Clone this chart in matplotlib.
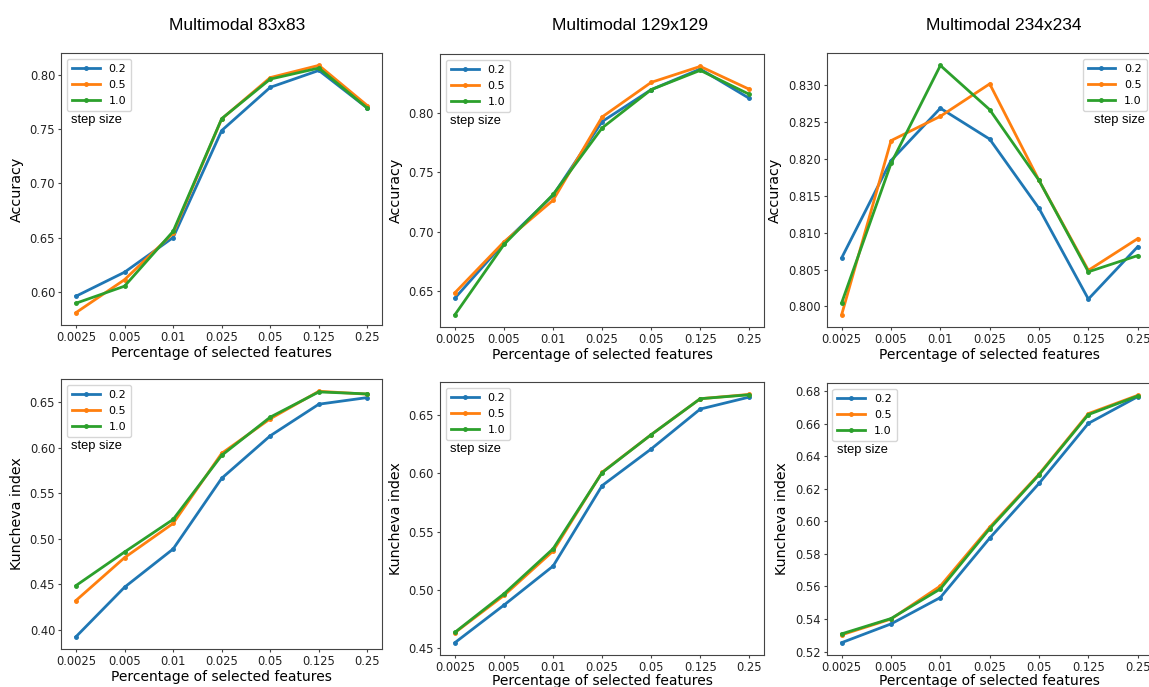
import matplotlib
matplotlib.use("Agg")
import matplotlib.pyplot as plt

# x categories (percentage of selected features)
percentages = ["0.0025", "0.005", "0.01", "0.025", "0.05", "0.125", "0.25"]
step_sizes = ["0.2", "0.5", "1.0"]

# Accuracy, Multimodal 83x83
acc_83_02 = [0.5957, 0.6179, 0.6500, 0.7490, 0.7890, 0.8046, 0.7697]
acc_83_05 = [0.5805, 0.6110, 0.6540, 0.7598, 0.7980, 0.8093, 0.7720]
acc_83_10 = [0.5892, 0.6050, 0.6557, 0.7600, 0.7966, 0.8068, 0.7697]

# Accuracy, Multimodal 129x129
acc_129_02 = [0.6444, 0.6908, 0.7307, 0.7925, 0.8193, 0.8366, 0.8120]
acc_129_05 = [0.6489, 0.6916, 0.7265, 0.7964, 0.8254, 0.8388, 0.8196]
acc_129_10 = [0.6305, 0.6894, 0.7313, 0.7872, 0.8193, 0.8355, 0.8154]

# Accuracy, Multimodal 234x234
acc_234_02 = [0.8066, 0.8198, 0.8269, 0.8227, 0.8133, 0.8010, 0.8081]
acc_234_05 = [0.7989, 0.8225, 0.8258, 0.8302, 0.8171, 0.8049, 0.8092]
acc_234_10 = [0.8005, 0.8194, 0.8327, 0.8267, 0.8171, 0.8047, 0.8069]

# Kuncheva index, Multimodal 83x83
kun_83_02 = [0.3923, 0.4467, 0.4887, 0.5664, 0.6131, 0.6478, 0.6551]
kun_83_05 = [0.4321, 0.4792, 0.5168, 0.5938, 0.6318, 0.6620, 0.6588]
kun_83_10 = [0.4485, 0.4854, 0.5212, 0.5916, 0.6336, 0.6613, 0.6591]

# Kuncheva index, Multimodal 129x129
kun_129_02 = [0.4546, 0.4869, 0.5204, 0.5896, 0.6211, 0.6554, 0.6657]
kun_129_05 = [0.4632, 0.4952, 0.5333, 0.6011, 0.6334, 0.6643, 0.6680]
kun_129_10 = [0.4635, 0.4966, 0.5353, 0.6008, 0.6334, 0.6643, 0.6677]

# Kuncheva index, Multimodal 234x234
kun_234_02 = [0.5255, 0.5370, 0.5532, 0.5897, 0.6233, 0.6602, 0.6766]
kun_234_05 = [0.5303, 0.5400, 0.5603, 0.5964, 0.6290, 0.6662, 0.6774]
kun_234_10 = [0.5309, 0.5403, 0.5585, 0.5955, 0.6286, 0.6656, 0.6770]

titles = ["Multimodal 83x83", "Multimodal 129x129", "Multimodal 234x234"]

W, H = 1149, 687


def px_axes(fig, left, top, width, bottom):
    return fig.add_axes([left / W, 1 - bottom / H, width / W, (bottom - top) / H])


def draw_panel(ax, series, ylabel, legend_loc):
    x = list(range(len(percentages)))
    for label, values in zip(step_sizes, series):
        ax.plot(x, values, marker=".", markersize=5, linewidth=2, label=label)
    ax.set_xticks(x)
    ax.set_xticklabels(percentages)
    ax.tick_params(labelsize=8.3, length=2.5, pad=2, color="#444444", labelcolor="#222222")
    for spine in ax.spines.values():
        spine.set_color("#444444")
    ax.set_xlabel("Percentage of selected features", fontsize=10, labelpad=1)
    ax.set_ylabel(ylabel, fontsize=10.3, labelpad=4)
    leg = ax.legend(loc=legend_loc, fontsize=8, handlelength=2.5,
                    borderaxespad=0.5, labelspacing=0.55, borderpad=0.45)
    if legend_loc == "upper right":
        ax.annotate("step size", xy=(1, 0), xycoords=leg, xytext=(-1.5, -2),
                    textcoords="offset points", ha="right", va="top",
                    family="Liberation Sans", fontsize=9.3)
    else:
        ax.annotate("step size", xy=(0, 0), xycoords=leg, xytext=(3, -2),
                    textcoords="offset points", ha="left", va="top",
                    family="Liberation Sans", fontsize=9.3)


fig = plt.figure(figsize=(W / 100, H / 100), dpi=100)

top_axes = [
    px_axes(fig, 61.4, 53, 320.6, 325),
    px_axes(fig, 440.3, 54, 323.7, 327),
    px_axes(fig, 826.9, 53, 325.6, 327),
]
bottom_axes = [
    px_axes(fig, 61.4, 379, 320.6, 649),
    px_axes(fig, 440.3, 382, 323.7, 655),
    px_axes(fig, 826.9, 383, 325.6, 655),
]

draw_panel(top_axes[0], [acc_83_02, acc_83_05, acc_83_10], "Accuracy", "upper left")
draw_panel(top_axes[1], [acc_129_02, acc_129_05, acc_129_10], "Accuracy", "upper left")
draw_panel(top_axes[2], [acc_234_02, acc_234_05, acc_234_10], "Accuracy", "upper right")
draw_panel(bottom_axes[0], [kun_83_02, kun_83_05, kun_83_10], "Kuncheva index", "upper left")
draw_panel(bottom_axes[1], [kun_129_02, kun_129_05, kun_129_10], "Kuncheva index", "upper left")
draw_panel(bottom_axes[2], [kun_234_02, kun_234_05, kun_234_10], "Kuncheva index", "upper left")

for ax in bottom_axes[1:]:
    ax.xaxis.labelpad = 0

for title, cx in zip(titles, [237, 630, 1004]):
    fig.text(cx / W, 1 - 25 / H, title, ha="center", va="center",
             family="Liberation Sans", fontsize=12.5)

fig.savefig("out.png", dpi=100)
